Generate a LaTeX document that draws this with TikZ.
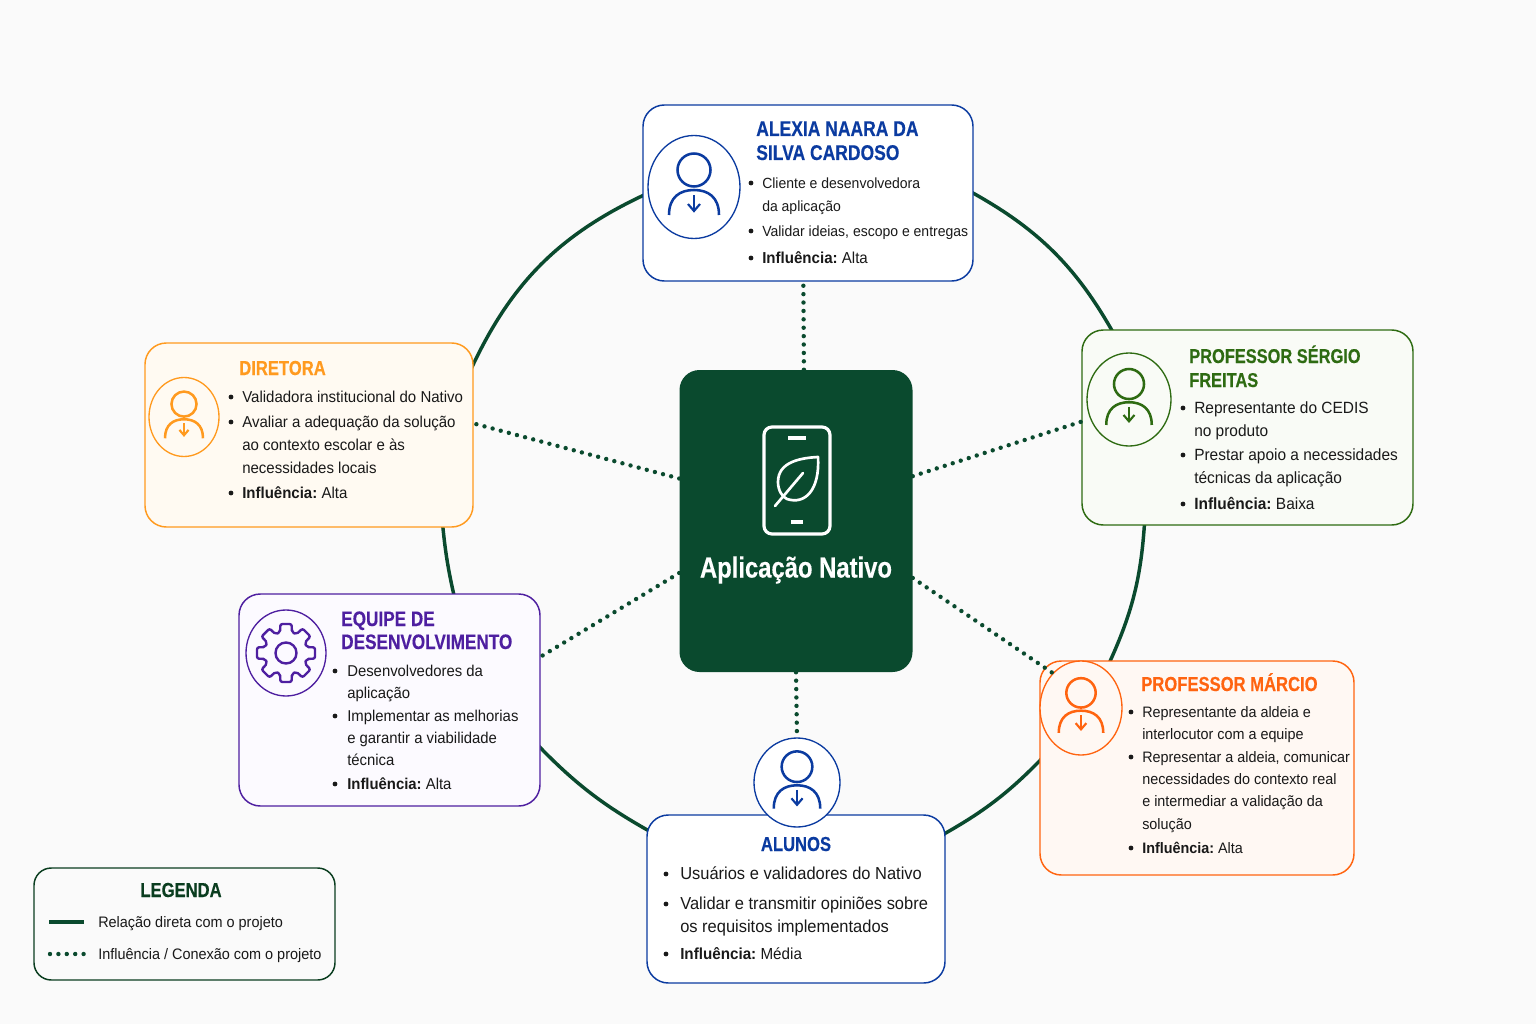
\documentclass[tikz,border=0pt]{standalone}
\usepackage{fontspec}
\usepackage{xcolor}
\usetikzlibrary{shapes.geometric, positioning, calc}
\setmainfont{Liberation Sans}
\newfontfamily\bodyfont[FakeStretch=0.95]{Liberation Sans}
\newfontfamily\headfont[FakeStretch=0.82, FakeBold=0.3]{Liberation Sans}
\newcommand{\px}{0.75pt}
\definecolor{pagebg}{HTML}{FAFAFA}
\definecolor{hubgreen}{HTML}{0A4A2E}
\definecolor{legendgreen}{HTML}{0A3D1F}
\definecolor{acblue}{HTML}{0B3BA0}
\definecolor{dirorange}{HTML}{FF9A1F}
\definecolor{profgreen}{HTML}{2E6B12}
\definecolor{devpurple}{HTML}{4E1FA0}
\definecolor{marcred}{HTML}{FF6410}
\definecolor{dirfill}{HTML}{FFFAF2}
\definecolor{proffill}{HTML}{F9FBF6}
\definecolor{devfill}{HTML}{FCFAFF}
\definecolor{marcfill}{HTML}{FFF8F3}
\tikzset{
  card/.style={rectangle, draw=#1, line width=1.1pt, rounded corners=16pt, inner sep=0pt},
  iconring/.style={ellipse, draw=#1, line width=1pt, inner sep=0pt},
  title/.style={anchor=west, text=#1, font=\headfont\bfseries\fontsize{15.2}{15.2}\selectfont, text height=10.5pt, text depth=0pt, inner sep=0pt},
  line/.style={anchor=west, text=black!90, font=\bodyfont\fontsize{#1}{#1}\selectfont, text height=9pt, text depth=1.5pt, inner sep=0pt},
  bul/.style={circle, fill=black!90, inner sep=0pt, minimum size=3.6pt},
  direct/.style={draw=hubgreen, line width=2.6pt},
  influence/.style={draw=hubgreen, line width=3.3pt, line cap=round, dash pattern=on 0pt off 6.3pt},
  person/.pic={
    \draw[#1, line width=1.9pt] (0,-17) circle (16.5);
    \draw[#1, line width=1.9pt] (-25,28) .. controls (-25,10) and (-14,3) .. (0,3) .. controls (14,3) and (25,10) .. (25,28);
    \draw[#1, line width=1.6pt] (0,8) -- (0,24);
    \draw[#1, line width=1.6pt] (-6,17) -- (0,24) -- (6,17);
  }
}
\begin{document}
\begin{tikzpicture}[x=\px, y=-\px]
  \useasboundingbox (0,0) rectangle (1536,1024);
  \fill[pagebg] (0,0) rectangle (1536,1024);

  % ring between the cards
  \coordinate (r1a) at (960,186);
  \coordinate (r1b) at (1120,345);
  \coordinate (r2a) at (1145,515);
  \coordinate (r2b) at (1106,670);
  \coordinate (r3a) at (1050,750);
  \coordinate (r3b) at (935,839);
  \coordinate (r4a) at (660,837);
  \coordinate (r4b) at (530,737);
  \coordinate (r5a) at (456,604);
  \coordinate (r5b) at (442,518);
  \coordinate (r6a) at (467,378);
  \coordinate (r6b) at (655,190);
  \draw[direct] (r1a) to[bend left=17] (r1b);
  \draw[direct] (r2a) to[bend left=11] (r2b);
  \draw[direct] (r3a) to[bend left=9] (r3b);
  \draw[direct] (r4a) to[bend left=9] (r4b);
  \draw[direct] (r5a) to[bend left=4] (r5b);
  \draw[direct] (r6a) to[bend left=21] (r6b);

  % hub
  \node[rectangle, fill=hubgreen, rounded corners=15pt, minimum width=233*\px, minimum height=302*\px, inner sep=0pt] (hub) at (796,521) {};
  \draw[white, line width=2.4pt, rounded corners=6pt] (764,427) rectangle (830,534);
  \draw[white, line width=2.4pt] (788,438) -- (806,438);
  \draw[white, line width=2.4pt] (791,522) -- (803,522);
  \draw[white, line width=2pt, line join=round] (818,457) .. controls (800,458) and (778,462) .. (778,482) .. controls (778,490) and (782,497) .. (787,499) .. controls (805,505) and (820,490) .. (818,457) -- cycle;
  \draw[white, line width=2pt, line cap=round] (775,506) -- (803,473);
  \node[text=white, inner sep=0pt, font=\headfont\bfseries\fontsize{21.8}{21.8}\selectfont] (hubname) at (796,570) {Aplicação Nativo};

  % alexia
  \node[card=acblue, fill=white, minimum width=330*\px, minimum height=176*\px] (alexia) at (808,193) {};
  \node[iconring=acblue, minimum width=92*\px, minimum height=103*\px] (alexiaicon) at (694,187) {};
  \pic at (alexiaicon.center) {person=acblue};
  \node[title=acblue, font=\headfont\bfseries\fontsize{16}{16}\selectfont] (alexiat1) at (756,129) {ALEXIA NAARA DA};
  \node[title=acblue, font=\headfont\bfseries\fontsize{16}{16}\selectfont] (alexiat2) at (756,153) {SILVA CARDOSO};
  \node[line=11.05] (alexia1) at (762,183) {Cliente e desenvolvedora};
  \node[line=11.05] (alexia2) at (762,206) {da aplicação};
  \node[line=11.05] (alexia3) at (762,231) {Validar ideias, escopo e entregas};
  \node[line=11.9] (alexia4) at (762,258) {\textbf{Influência:}\hspace{-1pt} Alta};
  \foreach \n/\yy in {1/183, 2/231, 3/258}
    \node[bul] (alexiab\n) at (751,\yy) {};

  % diretora
  \node[card=dirorange, fill=dirfill, minimum width=328*\px, minimum height=184*\px] (diretora) at (309,435) {};
  \node[iconring=dirorange, minimum width=70*\px, minimum height=79*\px] (diretoraicon) at (184,417) {};
  \pic[scale=.76] at (diretoraicon.center) {person=dirorange};
  \node[title=dirorange] (diretorat1) at (239,368) {DIRETORA};
  \node[line=11.85] (diretora1) at (242,397) {Validadora institucional do Nativo};
  \node[line=11.85] (diretora2) at (242,422) {Avaliar a adequação da solução};
  \node[line=11.85] (diretora3) at (242,445) {ao contexto escolar e às};
  \node[line=11.85] (diretora4) at (242,468) {necessidades locais};
  \node[line=11.85] (diretora5) at (242,493) {\textbf{Influência:}\hspace{-1pt} Alta};
  \foreach \n/\yy in {1/397, 2/422, 3/493}
    \node[bul] (diretorab\n) at (231,\yy) {};

  % sergio
  \node[card=profgreen, fill=proffill, minimum width=331*\px, minimum height=195*\px] (sergio) at (1247.5,427.5) {};
  \node[iconring=profgreen, minimum width=84*\px, minimum height=93*\px] (sergioicon) at (1129,399.5) {};
  \pic[scale=.91] at (sergioicon.center) {person=profgreen};
  \node[title=profgreen, font=\headfont\bfseries\fontsize{15}{15}\selectfont] (sergiot1) at (1189,356) {PROFESSOR SÉRGIO};
  \node[title=profgreen, font=\headfont\bfseries\fontsize{15}{15}\selectfont] (sergiot2) at (1189,380) {FREITAS};
  \node[line=12.2] (sergio1) at (1194,408) {Representante do CEDIS};
  \node[line=12.2] (sergio2) at (1194,431) {no produto};
  \node[line=12.2] (sergio3) at (1194,455) {Prestar apoio a necessidades};
  \node[line=12.2] (sergio4) at (1194,478) {técnicas da aplicação};
  \node[line=12.2] (sergio5) at (1194,504) {\textbf{Influência:}\hspace{-1pt} Baixa};
  \foreach \n/\yy in {1/408, 2/455, 3/504}
    \node[bul] (sergiob\n) at (1183,\yy) {};

  % equipe
  \node[card=devpurple, fill=devfill, minimum width=301*\px, minimum height=212*\px] (equipe) at (389.5,700) {};
  \node[iconring=devpurple, minimum width=80*\px, minimum height=86*\px] (equipeicon) at (286,653) {};
  \draw[devpurple, line width=1.8pt, rounded corners=1.5pt] ($(286,653)+(-16:21.5)$)
    \foreach \a in {0,45,...,270} {
      -- ($(286,653)+(\a-11:29.5)$) -- ($(286,653)+(\a+11:29.5)$) -- ($(286,653)+(\a+16:21.5)$) -- ($(286,653)+(\a+29:21.5)$)
    } -- ($(286,653)+(304:29.5)$) -- ($(286,653)+(326:29.5)$) -- ($(286,653)+(331:21.5)$) -- cycle;
  \draw[devpurple, line width=1.8pt] (equipeicon.center) circle (10.5);
  \node[title=devpurple, font=\headfont\bfseries\fontsize{15.7}{15.7}\selectfont] (equipet1) at (341,619) {EQUIPE DE};
  \node[title=devpurple, font=\headfont\bfseries\fontsize{15.7}{15.7}\selectfont] (equipet2) at (341,642) {DESENVOLVIMENTO};
  \node[line=11.75] (equipe1) at (347,671) {Desenvolvedores da};
  \node[line=11.75] (equipe2) at (347,693) {aplicação};
  \node[line=11.75] (equipe3) at (347,716) {Implementar as melhorias};
  \node[line=11.75] (equipe4) at (347,738) {e garantir a viabilidade};
  \node[line=11.75] (equipe5) at (347,760) {técnica};
  \node[line=11.75] (equipe6) at (347,784) {\textbf{Influência:}\hspace{-1pt} Alta};
  \foreach \n/\yy in {1/671, 2/716, 3/784}
    \node[bul] (equipeb\n) at (335,\yy) {};

  % marcio
  \node[card=marcred, fill=marcfill, minimum width=314*\px, minimum height=214*\px] (marcio) at (1197,768) {};
  \node[iconring=marcred, fill=marcfill, minimum width=82*\px, minimum height=94*\px] (marcioicon) at (1081,708) {};
  \pic[scale=.89] at (marcioicon.center) {person=marcred};
  \node[title=marcred] (marciot1) at (1141,684) {PROFESSOR MÁRCIO};
  \node[line=11.35] (marcio1) at (1142,712) {Representante da aldeia e};
  \node[line=11.35] (marcio2) at (1142,734) {interlocutor com a equipe};
  \node[line=11.35] (marcio3) at (1142,757) {Representar a aldeia, comunicar};
  \node[line=11.35] (marcio4) at (1142,779) {necessidades do contexto real};
  \node[line=11.35] (marcio5) at (1142,801) {e intermediar a validação da};
  \node[line=11.35] (marcio6) at (1142,824) {solução};
  \node[line=11.35] (marcio7) at (1142,848) {\textbf{Influência:}\hspace{-1pt} Alta};
  \foreach \n/\yy in {1/712, 2/757, 3/848}
    \node[bul] (marciob\n) at (1131,\yy) {};

  % alunos
  \node[card=acblue, fill=white, minimum width=298*\px, minimum height=168*\px] (alunos) at (796,899) {};
  \node[iconring=acblue, fill=white, minimum width=86*\px, minimum height=89*\px] (alunosicon) at (797,782.5) {};
  \pic[scale=.93] at (alunosicon.center) {person=acblue};
  \node[title=acblue, anchor=center] (alunost1) at (796,844) {ALUNOS};
  \node[line=13] (alunos1) at (680,874) {Usuários e validadores do Nativo};
  \node[line=13] (alunos2) at (680,904) {Validar e transmitir opiniões sobre};
  \node[line=13] (alunos3) at (680,927) {os requisitos implementados};
  \node[line=12] (alunos4) at (680,954) {\textbf{Influência:}\hspace{-1pt} Média};
  \foreach \n/\yy in {1/874, 2/904, 3/954}
    \node[bul] (alunosb\n) at (666,\yy) {};

  % influence lines
  \draw[influence] (hub.87) -- (alexia.267.4);
  \draw[influence] (hub.160.5) -- (diretora.4.2);
  \draw[influence] (hub.21.6) -- (sergio.178.4);
  \draw[influence] (hub.204) -- (equipe.16.6);
  \draw[influence] (hub.-26) -- (marcioicon.129);
  \draw[influence] (hub.south) -- (alunosicon.north);

  % legend
  \node[card=legendgreen, fill=pagebg, rounded corners=13pt, minimum width=301*\px, minimum height=112*\px] (legenda) at (184.5,924) {};
  \node[title=legendgreen, anchor=center] (legendat) at (181,890) {LEGENDA};
  \coordinate (leg1a) at (49,922);
  \coordinate (leg1b) at (84,922);
  \coordinate (leg2a) at (50,954);
  \coordinate (leg2b) at (84,954);
  \draw[direct] (leg1a) -- (leg1b);
  \draw[influence] (leg2a) -- (leg2b);
  \node[line=11.4] (legenda1) at (98,922) {Relação direta com o projeto};
  \node[line=11.4] (legenda2) at (98,954) {Influência / Conexão com o projeto};
\end{tikzpicture}
\end{document}
